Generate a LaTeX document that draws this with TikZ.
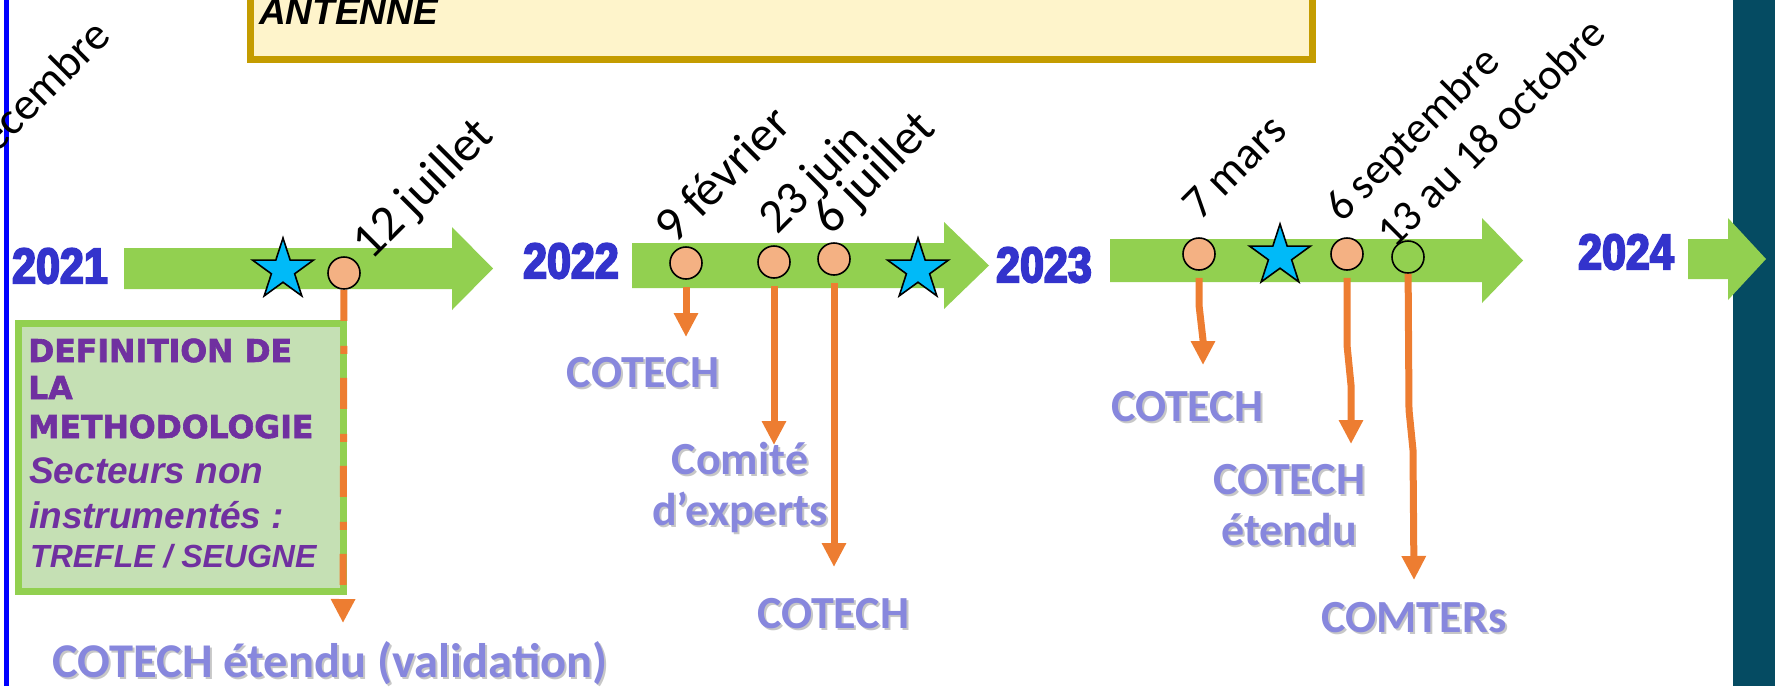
\documentclass[tikz,border=0pt]{standalone}
\usepackage{fontspec}
\setmainfont{Carlito}
\newfontfamily\yearfont[FakeStretch=0.86,FakeBold=4]{Liberation Sans}
\newfontfamily\methfont[FakeBold=2]{DejaVu Sans}
\newfontfamily\notefont{Liberation Sans}
\usetikzlibrary{arrows.meta,shapes.geometric,calc}

\definecolor{tlgreen}{HTML}{92D050}
\definecolor{peach}{HTML}{F4B183}
\definecolor{starblue}{HTML}{00BAF8}
\definecolor{conorange}{HTML}{ED7D31}
\definecolor{yearblue}{HTML}{3333CC}
\definecolor{lblblue}{HTML}{8787DD}
\definecolor{methpurple}{HTML}{7030A0}
\definecolor{methfill}{HTML}{C5E0B4}
\definecolor{notefill}{HTML}{FEF4CB}
\definecolor{noteline}{HTML}{C49C00}
\definecolor{barteal}{HTML}{054B62}

% label with a soft shadow under it
\newcommand\evlabel[4][46]{%
  \node[lblshadow=#1] (#2sh) at ($(#3)+(2,2)$) {#4};
  \node[lbl=#1] (#2) at (#3) {#4};}

\begin{document}
\begin{tikzpicture}[x=1pt, y=-1pt, >={Triangle[length=24pt,width=23pt]},
  every node/.style={inner sep=0pt},
  year/.style={font=\yearfont\bfseries\fontsize{50}{60}\selectfont, text=yearblue},
  date/.style={font=\fontsize{#1}{#1}\selectfont, rotate=45, anchor=base west},
  meet/.style={draw, circle, line width=1.6pt, fill=peach, minimum size=32pt},
  mstar/.style={draw, star, star points=5, star point ratio=2.618, line width=1.6pt, fill=starblue, minimum size=64pt},
  conn/.style={->, line width=7pt, conorange, line join=round},
  lbl/.style={font=\bfseries\fontsize{#1}{51}\selectfont, text=lblblue, align=center, anchor=base},
  lblshadow/.style={lbl=#1, text=black!22},
  meth/.style={anchor=base west, text=methpurple}]
	\useasboundingbox (0,0) rectangle (1775,686);
	\clip (0,0) rectangle (1775,686);

	% frame pieces
	\fill[blue] (3.5,0) rectangle (9,686);
	\fill[barteal] (1733,0) rectangle (1775,686);
	\draw[noteline, fill=notefill, line width=7pt] (250.5,-30) rectangle (1312.5,59.5);
	\node[anchor=base west, font=\notefont\bfseries\itshape\fontsize{37}{40}\selectfont] (antenne) at (259,24) {ANTENNE};

	% timeline arrows
	\foreach \a/\b/\c/\h/\t in {124/248/289/452/493, 632/243/288/944/989, 1110/239/282/1482/1523, 1688/239/279/1728/1766} {
		\fill[tlgreen] (\a,\b) -- (\h,\b) -- (\h,\b-21) -- (\t,{(\b+\c)/2}) -- (\h,\c+21) -- (\h,\c) -- (\a,\c) -- cycle;
	}
	\foreach \n/\x/\y in {2021/60/266, 2022/571/261, 2023/1044/265, 2024/1626/252} {
		\node[year] (y\n) at (\x,\y) {\n};
	}

	% methodology box
	\draw[tlgreen, fill=methfill, line width=7pt] (18.5,323.5) rectangle (343.5,591.5);
	\foreach \n/\t/\y in {m1/DEFINITION DE/362, m2/LA/399, m3/METHODOLOGIE/438} {
		\node[meth, font=\methfont\bfseries\fontsize{31.5}{38}\selectfont] (\n) at (28,\y) {\t};
	}
	\node[meth, font=\notefont\bfseries\itshape\fontsize{37}{45}\selectfont] (m4) at (29,483) {Secteurs non};
	\node[meth, font=\notefont\bfseries\itshape\fontsize{37}{45}\selectfont] (m5) at (29,528) {instrumentés :};
	\node[meth, font=\notefont\bfseries\itshape\fontsize{32}{36}\selectfont] (m6) at (30,567) {TREFLE / SEUGNE};

	% meetings and milestones
	\foreach \n/\x/\y in {d1/344/273, d2/686/263, d3/774/262, d4/834/259, d5/1199/254, d6/1347/254} {
		\node[meet] (\n) at (\x,\y) {};
	}
	\node[meet, fill=tlgreen] (d7) at (1408,257) {};
	\foreach \n/\x/\y in {s1/283/270, s2/918/270, s3/1280/256} {
		\node[mstar] (\n) at (\x,\y) {};
	}

	% dates
	\foreach \n/\x/\y/\s/\t in {t1/371/262/50/12 juillet, t2/674/246/50/9 février, t3/777/236/48/23 juin, t4/831/237/50/6 juillet, t5/1200/222/46/7 mars, t6/1342/224/44/6 septembre, t7/1394/250/44/13 au 18 octobre} {
		\node[date=\s] (\n) at (\x,\y) {\t};
	}
	\node[date=46] (t0) at (-21,172) {décembre};

	% arrow ends
	\coordinate (e1) at (343,623);
	\coordinate (e2) at (686,337);
	\coordinate (e3) at (774,445);
	\coordinate (e4) at (834,567);
	\coordinate (e5) at (1203,365);
	\coordinate (e6) at (1351,444);
	\coordinate (e7) at (1414,580);

	\draw[conn, dash pattern=on 31pt off 25pt on 8pt off 24pt] (d1) -- (e1);
	\foreach \i in {2,3,4} {
		\draw[conn, shorten <=7pt] (d\i) -- (e\i);
	}
	\draw[conn, shorten <=7pt] (d5) -- (1199,305) -- (1203,340) -- (e5);
	\draw[conn, shorten <=7pt] (d6) -- (1347,345) -- (1351,385) -- (e6);
	\draw[conn] (d7) -- (1409,410) -- (1413,450) -- (e7);

	% meeting names
	\evlabel[48.5]{l1}{330,677}{COTECH étendu (validation)}
	\evlabel{l2}{643,387}{COTECH}
	\evlabel{l3}{740,525}{Comité\\d’experts}
	\evlabel{l4}{833,628}{COTECH}
	\evlabel{l5}{1187,421}{COTECH}
	\evlabel{l6}{1289,545}{COTECH\\étendu}
	\evlabel{l7}{1414,632}{COMTERs}
\end{tikzpicture}
\end{document}
